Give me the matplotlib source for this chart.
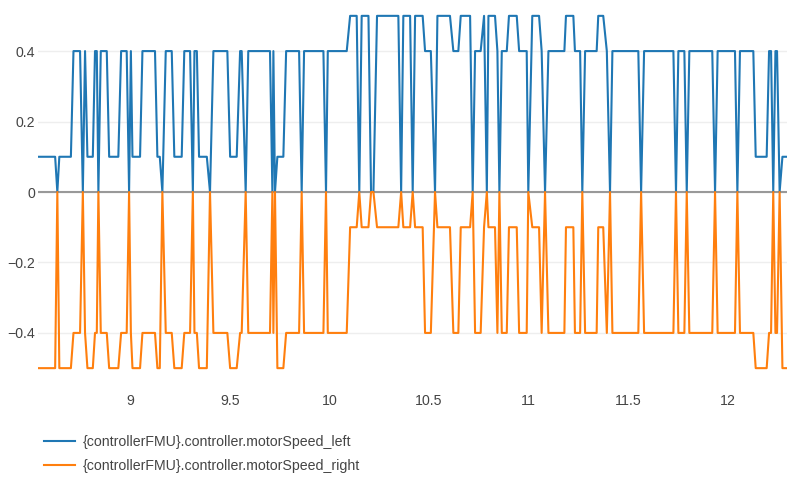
import matplotlib
matplotlib.use("Agg")
import matplotlib.pyplot as plt

# sample times (s) at each vertex of the two motor-speed traces
time = [
    8.538, 8.624, 8.635, 8.645, 8.703, 8.716, 8.749, 8.763, 8.774, 8.786,
    8.813, 8.824, 8.833, 8.841, 8.853, 8.883, 8.895, 8.941, 8.955, 8.983,
    8.995, 9.004, 9.012, 9.050, 9.062, 9.125, 9.137, 9.149, 9.162, 9.179,
    9.209, 9.222, 9.259, 9.272, 9.301, 9.315, 9.323, 9.335, 9.346, 9.385,
    9.401, 9.418, 9.488, 9.502, 9.535, 9.552, 9.560, 9.580, 9.593, 9.702,
    9.714, 9.719, 9.727, 9.739, 9.769, 9.783, 9.848, 9.861, 9.873, 9.970,
    9.983, 9.992, 10.087, 10.104, 10.137, 10.150, 10.162, 10.196, 10.209, 10.221,
    10.239, 10.346, 10.360, 10.371, 10.405, 10.418, 10.430, 10.468, 10.480, 10.509,
    10.530, 10.542, 10.605, 10.622, 10.647, 10.659, 10.706, 10.719, 10.731, 10.759,
    10.776, 10.790, 10.798, 10.831, 10.843, 10.853, 10.865, 10.890, 10.901, 10.940,
    10.952, 10.990, 10.998, 11.018, 11.052, 11.065, 11.082, 11.099, 11.179, 11.187,
    11.224, 11.232, 11.258, 11.269, 11.283, 11.341, 11.349, 11.374, 11.392, 11.408,
    11.420, 11.550, 11.564, 11.579, 11.726, 11.739, 11.751, 11.781, 11.793, 11.806,
    11.921, 11.935, 11.948, 12.035, 12.047, 12.060, 12.127, 12.139, 12.194, 12.206,
    12.216, 12.227, 12.238, 12.246, 12.259, 12.273, 12.296,
]

speed_left = [
    .1, .1, 0, .1, .1, .4, .4, 0, .4, .1,
    .1, .4, .4, 0, .4, .4, .1, .1, .4, .4,
    0, .4, .1, .1, .4, .4, .1, .1, 0, .4,
    .4, .1, .1, .4, .4, 0, .4, .4, .1, .1,
    0, .4, .4, .1, .1, .4, .4, 0, .4, .4,
    0, .4, 0, .1, .1, .4, .4, 0, .4, .4,
    0, .4, .4, .5, .5, 0, .5, .5, 0, 0,
    .5, .5, 0, .5, .5, 0, .5, .5, .4, .4,
    0, .5, .5, .4, .4, .5, .5, 0, .4, .4,
    .5, 0, .5, .5, .4, 0, .4, .4, .5, .5,
    .4, .4, 0, .5, .5, .4, 0, .4, .4, .5,
    .5, .4, .4, 0, .4, .4, .5, .5, .4, 0,
    .4, .4, 0, .4, .4, 0, .4, .4, 0, .4,
    .4, 0, .4, .4, 0, .4, .4, .1, .1, .4,
    .4, 0, .4, .4, 0, .1, .1,
]

speed_right = [
    -.5, -.5, 0, -.5, -.5, -.4, -.4, 0, -.4, -.5,
    -.5, -.4, -.4, 0, -.4, -.4, -.5, -.5, -.4, -.4,
    0, -.4, -.5, -.5, -.4, -.4, -.5, -.5, 0, -.4,
    -.4, -.5, -.5, -.4, -.4, 0, -.4, -.4, -.5, -.5,
    0, -.4, -.4, -.5, -.5, -.4, -.4, 0, -.4, -.4,
    0, -.4, 0, -.5, -.5, -.4, -.4, 0, -.4, -.4,
    0, -.4, -.4, -.1, -.1, 0, -.1, -.1, 0, 0,
    -.1, -.1, 0, -.1, -.1, 0, -.1, -.1, -.4, -.4,
    0, -.1, -.1, -.4, -.4, -.1, -.1, 0, -.4, -.4,
    -.1, 0, -.1, -.1, -.4, 0, -.4, -.4, -.1, -.1,
    -.4, -.4, 0, -.1, -.1, -.4, 0, -.4, -.4, -.1,
    -.1, -.4, -.4, 0, -.4, -.4, -.1, -.1, -.4, 0,
    -.4, -.4, 0, -.4, -.4, 0, -.4, -.4, 0, -.4,
    -.4, 0, -.4, -.4, 0, -.4, -.4, -.5, -.5, -.4,
    -.4, 0, -.4, -.4, 0, -.5, -.5,
]

labels = [
    "{controllerFMU}.controller.motorSpeed_left",
    "{controllerFMU}.controller.motorSpeed_right",
]
xticks = [9, 9.5, 10, 10.5, 11, 11.5, 12]
xticklabels = ["9", "9.5", "10", "10.5", "11", "11.5", "12"]
yticks = [-0.4, -0.2, 0, 0.2, 0.4]
yticklabels = ["\u22120.4", "\u22120.2", "0", "0.2", "0.4"]

plt.rcParams["font.family"] = ["Liberation Sans", "DejaVu Sans"]

fig = plt.figure(figsize=(7.87, 4.78), dpi=100)
ax = fig.add_axes([38 / 787, 94 / 478, 749 / 787, 384 / 478])

ax.plot(time, speed_left, color="#1f77b4", lw=1.5, label=labels[0], zorder=3)
ax.plot(time, speed_right, color="#ff7f0e", lw=1.5, label=labels[1], zorder=3)

ax.axhline(0, color="#999999", lw=1.5, zorder=2)
ax.set_xlim(time[0], time[-1])
ax.set_ylim(-0.545, 0.545)

ax.set_xticks(xticks)
ax.set_xticklabels(xticklabels)
ax.set_yticks(yticks)
ax.set_yticklabels(yticklabels)
ax.tick_params(length=0, labelsize=10.2, labelcolor="#444444")
ax.tick_params(axis="x", pad=7)
ax.tick_params(axis="y", pad=2)
ax.grid(axis="y", color="#eeeeee", lw=1, zorder=1)
for s in ax.spines.values():
    s.set_visible(False)

fig.legend(loc="upper left", bbox_to_anchor=(44 / 787, 1 - 435 / 478),
           frameon=False, fontsize=10.2, handlelength=2.2, handletextpad=0.56,
           labelspacing=0.72, borderpad=0, borderaxespad=0,
           labelcolor="#444444")

fig.savefig("out.png", dpi=100)
